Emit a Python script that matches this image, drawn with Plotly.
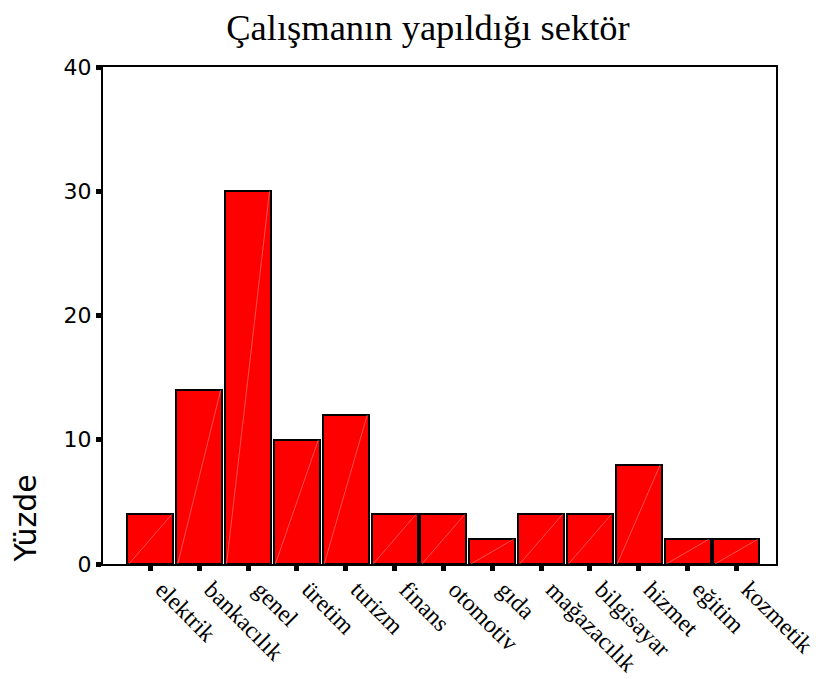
import plotly.graph_objects as go

categories = ["elektrik", "bankacılık", "genel", "üretim", "turizm", "finans",
              "otomotiv", "gıda", "mağazacılık", "bilgisayar", "hizmet", "eğitim", "kozmetik"]
percent = [4, 14, 30, 10, 12, 4, 4, 2, 4, 4, 8, 2, 2]
y_ticks = [0, 10, 20, 30, 40]

positions = list(range(len(categories)))
bar_width = 0.94

fig = go.Figure()
fig.add_trace(go.Bar(
    x=positions, y=percent, width=bar_width,
    marker=dict(color="#ff0000", line=dict(color="black", width=2)),
    hoverinfo="skip", showlegend=False,
))

# faint diagonal artifacts inside each bar (from data)
dx, dy = [], []
for p, v in zip(positions, percent):
    dx += [p - bar_width / 2 + 0.03, p + bar_width / 2 - 0.03, None]
    dy += [0, v, None]
fig.add_trace(go.Scatter(x=dx, y=dy, mode="lines",
                         line=dict(color="rgba(255,170,170,0.8)", width=0.6),
                         hoverinfo="skip", showlegend=False))

# page body has an 8px margin, so the figure is 8px smaller and shifted
W, H = 815, 671
fig.update_layout(
    width=W, height=H,
    margin=dict(l=95, r=47, t=59, b=115),
    plot_bgcolor="white", paper_bgcolor="white",
    title=dict(text="Çalışmanın yapıldığı sektör",
               font=dict(family="Liberation Serif", size=36.5, color="black"),
               x=420 / W, xanchor="center", xref="container",
               y=1 - 19 / H, yanchor="middle", yref="container"),
    bargap=0,
)
fig.update_xaxes(
    range=[-0.97, 12.81], tickvals=positions, ticktext=categories,
    tickangle=45, tickfont=dict(family="Liberation Serif", size=24, color="black"),
    ticks="outside", ticklen=5, tickwidth=5, tickcolor="black",
    ticklabelshift=12, ticklabelstandoff=-5,
    showline=True, linecolor="black", linewidth=2, mirror=True,
    showgrid=False, zeroline=False, automargin=False,
)
fig.update_yaxes(
    range=[0, 40], tickvals=y_ticks,
    tickfont=dict(family="DejaVu Sans", size=22, color="black"),
    ticks="outside", ticklen=5, tickwidth=5, tickcolor="black",
    showline=True, linecolor="black", linewidth=2, mirror=True,
    showgrid=False, zeroline=False, automargin=False,
)
fig.add_annotation(text="Yüzde", textangle=-90, xref="paper", yref="paper",
                   x=(24.5 - 103) / 673, y=(564 - 519) / 497,
                   xanchor="center", yanchor="middle", showarrow=False,
                   font=dict(family="DejaVu Sans", size=30, color="black"))

fig.write_html("out.html")
